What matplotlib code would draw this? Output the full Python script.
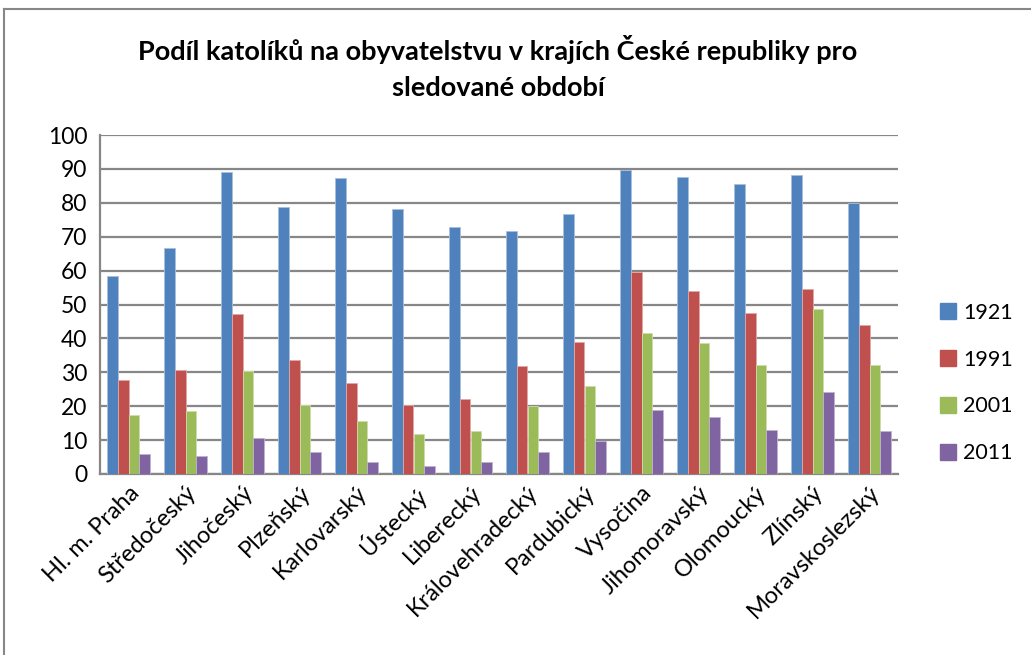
import matplotlib
matplotlib.use("Agg")
import matplotlib.pyplot as plt
import numpy as np
from matplotlib.lines import Line2D

regions = ["Hl. m. Praha", "Středočeský", "Jihočeský", "Plzeňský", "Karlovarský",
           "Ústecký", "Liberecký", "Královehradecký", "Pardubický", "Vysočina",
           "Jihomoravský", "Olomoucký", "Zlínský", "Moravskoslezský"]
y1921 = [58.3, 66.7, 89.1, 78.8, 87.3, 78.2, 72.9, 71.8, 76.7, 89.7, 87.7, 85.6, 88.1, 80.0]
y1991 = [27.6, 30.6, 47.1, 33.7, 26.8, 20.5, 22.0, 32.0, 38.9, 59.5, 54.1, 47.5, 54.5, 44.0]
y2001 = [17.5, 18.7, 30.4, 20.5, 15.5, 11.7, 12.6, 20.2, 26.1, 41.6, 38.7, 32.1, 48.6, 32.1]
y2011 = [5.8, 5.3, 10.5, 6.4, 3.6, 2.5, 3.6, 6.6, 9.6, 18.9, 16.7, 13.0, 24.3, 12.6]
series_labels = ["1921", "1991", "2001", "2011"]
yticks = list(range(0, 101, 10))
title = "Podíl katolíků na obyvatelstvu v krajích České republiky pro\nsledované období"

colors = ["#4F81BD", "#C0504D", "#9BBB59", "#8064A2"]
edge = ["#A7C0DE", "#E0A9A7", "#CDDDAC", "#BFB1D0"]

plt.rcParams['font.family'] = ['Lato', 'DejaVu Sans']

W, H = 1031, 655
fig = plt.figure(figsize=(W/100, H/100), dpi=100)
ax = fig.add_axes([100/W, 1-474/H, (898-100)/W, (474-135)/H])

x = np.arange(len(regions))
bw = 0.185
data = [y1921, y1991, y2001, y2011]
for i, (vals, c, ec, lab) in enumerate(zip(data, colors, edge, series_labels)):
    ax.bar(x + (i - 1.5) * bw, vals, width=bw, color=c, edgecolor=ec, linewidth=0.6,
           label=lab, zorder=3)

ax.set_xlim(-0.5, len(regions) - 0.5)
ax.set_ylim(0, 100)
ax.set_yticks(yticks)
ax.set_yticklabels([str(t) for t in yticks], fontsize=16.5)
ax.yaxis.grid(True, color="#878787", linewidth=1.6, zorder=0)
ax.set_axisbelow(True)
for s in ["top", "right"]:
    ax.spines[s].set_visible(False)
ax.spines["left"].set_color("#878787")
ax.spines["left"].set_linewidth(1.6)
ax.spines["bottom"].set_color("#878787")
ax.spines["bottom"].set_linewidth(1.6)
ax.tick_params(axis="y", length=0, pad=9)
ax.tick_params(axis="x", length=0, pad=6)
ax.set_xticks(x)
ax.set_xticklabels(regions, rotation=45, ha="right", rotation_mode="anchor", fontsize=17)

fig.text(498/W, 1-50/H, title.split("\n")[0], ha="center", va="center",
         fontsize=19.5, fontweight="bold")
fig.text(498/W, 1-88/H, title.split("\n")[1], ha="center", va="center",
         fontsize=19.5, fontweight="bold")

handles = [Line2D([0], [0], marker="s", color="none", markerfacecolor=c,
                  markeredgecolor=c, markersize=11) for c in colors]
fig.legend(handles, series_labels, loc="center left", bbox_to_anchor=(918/W, 1-383/H),
           frameon=False, fontsize=15.5, handletextpad=0.2, labelspacing=1.25,
           handlelength=1.0)

# chart border
fig.add_artist(Line2D([4/W, 4/W], [0, 1-9/H], color="#878787", linewidth=1.5,
                      transform=fig.transFigure))
fig.add_artist(Line2D([4/W, 1], [1-9/H, 1-9/H], color="#878787", linewidth=1.5,
                      transform=fig.transFigure))

fig.savefig("out.png", dpi=100)
